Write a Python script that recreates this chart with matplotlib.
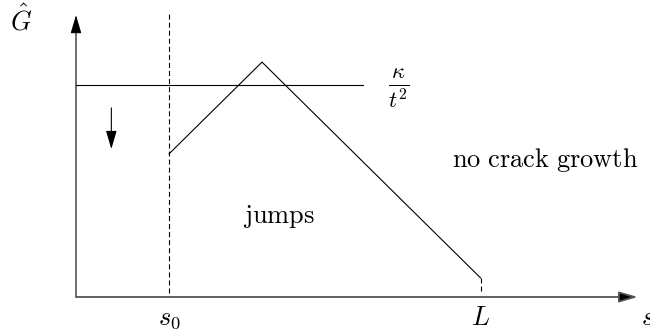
import matplotlib
matplotlib.use("Agg")
import matplotlib.pyplot as plt

# sketch of G-hat vs crack length s (arbitrary units, kappa/t^2 = 1)
s_curve = [1.0, 2.0, 4.35]        # s0, peak, L
G_curve = [0.675, 1.108, 0.09]
s0 = 1.0
L = 4.35
kappa_level = 1.0
kappa_end = 3.09
s_max = 6.04
G_max = 1.33
G_top_dash = 1.335
arrow_s = 0.38
arrow_G = [0.892, 0.698]

plt.rcParams['mathtext.fontset'] = 'cm'
plt.rcParams['lines.scale_dashes'] = False

fig = plt.figure(figsize=(6.5, 3.36), dpi=100)
ax = fig.add_axes([0, 0, 1, 1])
ax.set_xlim(-0.8172, 6.172)
ax.set_ylim(-0.184, 1.401)
ax.axis('off')

lw = 0.8
dash = (3.6, 2.2)
head = '-|>,head_length=0.75,head_width=0.22'

# axes with arrow heads
ax.annotate('', xy=(0, G_max), xytext=(0, 0),
            arrowprops=dict(arrowstyle=head, mutation_scale=15, lw=lw,
                            color='black', shrinkA=0, shrinkB=0))
ax.annotate('', xy=(s_max, 0), xytext=(0, 0),
            arrowprops=dict(arrowstyle=head, mutation_scale=15, lw=1.3,
                            fc='black', ec='#555555', shrinkA=0, shrinkB=0))

# s0 dashed line
ax.plot([s0, s0], [0.02, G_top_dash], color='black', lw=lw, dashes=dash)
# kappa/t^2 level
ax.plot([0, kappa_end], [kappa_level, kappa_level], color='black', lw=lw)
# G-hat curve
ax.plot(s_curve, G_curve, color='black', lw=lw)
ax.plot([L, L], [G_curve[-1], 0.02], color='black', lw=lw, dashes=dash)

# down arrow
ax.annotate('', xy=(arrow_s, arrow_G[1]), xytext=(arrow_s, arrow_G[0]),
            arrowprops=dict(arrowstyle=head, mutation_scale=15, lw=lw,
                            color='black', shrinkA=0, shrinkB=0))

fs = 19
ax.text(-0.591, 1.305, r'$\hat{G}$', fontsize=fs, ha='center', va='center')
ax.text(3.473, 0.981, r'$\frac{\kappa}{t^2}$', fontsize=23, ha='center', va='center')
ax.text(5.043, 0.613, r'$\mathrm{no\ crack\ growth}$', fontsize=fs, ha='center', va='baseline')
ax.text(2.183, 0.349, r'$\mathrm{jumps}$', fontsize=fs, ha='center', va='baseline')
ax.text(s0, -0.10, r'$s_0$', fontsize=fs, ha='center', va='center')
ax.text(L, -0.10, r'$L$', fontsize=fs, ha='center', va='center')
ax.text(6.07, -0.10, r'$s$', fontsize=fs, ha='left', va='center')

fig.savefig('out.png', dpi=100)
